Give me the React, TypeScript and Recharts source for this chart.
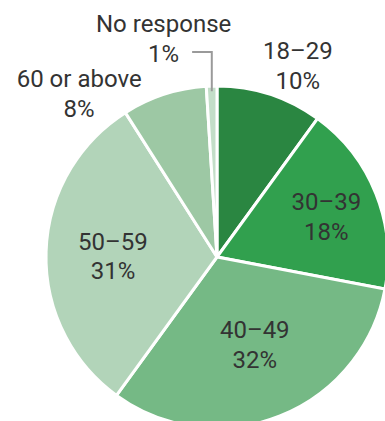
import React from "react";
import { PieChart, Pie, Cell } from "recharts";

const categories = ["18–29", "30–39", "40–49", "50–59", "60 or above", "No response"];
const shares = [10, 18, 32, 31, 8, 1];
const percentLabels = ["10%", "18%", "32%", "31%", "8%", "1%"];
const sliceColors = ["#2a8641", "#31a04e", "#75b985", "#b2d4b9", "#9dc8a4", "#c3dec8"];

// label placement: radius factor along the slice mid-angle plus a nudge
const labelPlacement = [
  { r: 1, dx: 28, dy: -29, leader: false },
  { r: 0.6, dx: 14, dy: -3, leader: false },
  { r: 0.6, dx: 0, dy: -8, leader: false },
  { r: 0.6, dx: -1.5, dy: 2, leader: false },
  { r: 1, dx: -85, dy: -1, leader: false },
  { r: 1, dx: -48, dy: -47.5, leader: true },
];

const data = categories.map((name, i) => ({ name, value: shares[i], pct: percentLabels[i] }));

const RAD = Math.PI / 180;
const LINE_GAP = 29.5;
const CAP_HALF = 8.6;

const renderLabel = (props: any) => {
  const { cx, cy, midAngle, outerRadius, index } = props;
  const p = labelPlacement[index];
  const rr = outerRadius * p.r;
  const x = cx + rr * Math.cos(-midAngle * RAD) + p.dx;
  const y = cy + rr * Math.sin(-midAngle * RAD) + p.dy;
  const y1 = y - LINE_GAP / 2 + CAP_HALF;
  const y2 = y + LINE_GAP / 2 + CAP_HALF;
  let leader = null;
  if (p.leader) {
    const sx = cx + outerRadius * 0.97 * Math.cos(-midAngle * RAD);
    const sy = cy + outerRadius * 0.97 * Math.sin(-midAngle * RAD);
    const cyy = y + 13.5;
    leader = (
      <polyline
        points={`${sx},${sy} ${sx},${cyy} ${x + 28.5},${cyy}`}
        fill="none"
        stroke="#9a9a9a"
        strokeWidth={2}
      />
    );
  }
  return (
    <g key={`lbl-${index}`}>
      {leader}
      <text
        x={x}
        textAnchor="middle"
        fill="#333333"
        fontFamily="Roboto, 'Liberation Sans', sans-serif"
        fontSize={24}
      >
        <tspan x={x} y={y1}>{categories[index]}</tspan>
        <tspan x={x} y={y2}>{percentLabels[index]}</tspan>
      </text>
    </g>
  );
};

export default function App() {
  return (
    <div style={{ width: 385, height: 421 }}>
      <style>{`body{margin:0}`}</style>
      <PieChart width={385} height={421} margin={{ top: 0, right: 0, bottom: 0, left: 0 }}>
        <Pie
          data={data}
          dataKey="value"
          nameKey="name"
          cx={217}
          cy={257}
          outerRadius={171}
          startAngle={90}
          endAngle={-270}
          stroke="#ffffff"
          strokeWidth={3}
          label={renderLabel}
          labelLine={false}
          isAnimationActive={false}
        >
          {data.map((d, i) => (
            <Cell key={d.name} fill={sliceColors[i]} />
          ))}
        </Pie>
      </PieChart>
    </div>
  );
}
